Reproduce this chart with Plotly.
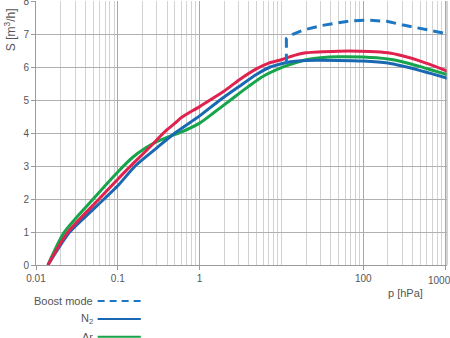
import plotly.graph_objects as go

# ---- data ----
p_n2 = [0.014, 0.0255, 0.04, 0.068, 0.1, 0.163, 0.3, 0.5, 1, 1.78, 3, 5, 7.3, 10, 13, 20, 50, 100, 200, 300, 500, 700, 1100]
s_n2 = [0.0, 0.98, 1.46, 2.0, 2.4, 3.0, 3.55, 4.0, 4.52, 5.0, 5.4, 5.78, 6.0, 6.1, 6.16, 6.2, 6.2, 6.18, 6.12, 6.03, 5.89, 5.79, 5.65]

p_ar = [0.014, 0.022, 0.05, 0.1, 0.15, 0.22, 0.3, 0.4, 0.585, 1, 1.5, 2.39, 4, 6, 10, 13, 20, 30, 50, 100, 200, 300, 500, 700, 1100]
s_ar = [0.0, 0.98, 2.0, 2.82, 3.25, 3.55, 3.74, 3.87, 4.02, 4.3, 4.62, 5.0, 5.42, 5.72, 5.98, 6.08, 6.22, 6.28, 6.31, 6.3, 6.24, 6.16, 6.01, 5.9, 5.76]

p_red = [0.014, 0.0243, 0.059, 0.1, 0.137, 0.2, 0.265, 0.33, 0.4, 0.5, 0.6, 1, 2, 3, 5, 7, 10, 13, 20, 50, 120, 200, 300, 500, 700, 1100]
s_red = [0.0, 0.98, 2.0, 2.6, 2.95, 3.35, 3.65, 3.9, 4.1, 4.3, 4.47, 4.8, 5.27, 5.6, 5.95, 6.12, 6.22, 6.32, 6.43, 6.48, 6.47, 6.43, 6.34, 6.18, 6.05, 5.86]

p_boost = [11.5, 11.5, 14, 18.7, 30, 48, 70, 111, 200, 309, 500, 700, 1100]
s_boost = [6.1, 6.86, 7.0, 7.12, 7.25, 7.34, 7.4, 7.42, 7.38, 7.27, 7.17, 7.1, 7.0]

x_tickvals = [0.01, 0.1, 1, 100, 1000]
x_ticktext = ["0.01", "0.1", "1", "100", ""]
x_last_label = "1000"
y_tickvals = [0, 1, 2, 3, 4, 5, 6, 7, 8]

legend_names = ["Boost mode", "N<sub>2</sub>", "Ar"]

# ---- styles ----
C_RED = "#e0234e"
C_BLUE = "#1b68b2"
C_GREEN = "#16a54a"
C_BOOST = "#1d77c2"
TXT = "#555555"
FONT = "Liberation Sans, Arial, sans-serif"

fig = go.Figure()
sm = dict(shape="spline", smoothing=0.7)
fig.add_trace(go.Scatter(x=p_ar, y=s_ar, mode="lines", line=dict(color=C_GREEN, width=3, **sm), showlegend=False))
fig.add_trace(go.Scatter(x=p_n2, y=s_n2, mode="lines", line=dict(color=C_BLUE, width=3, **sm), showlegend=False))
fig.add_trace(go.Scatter(x=p_red, y=s_red, mode="lines", line=dict(color=C_RED, width=3, **sm), showlegend=False))
fig.add_trace(go.Scatter(x=p_boost, y=s_boost, mode="lines", line=dict(color=C_BOOST, width=3, dash="10px,6px"), showlegend=False))

fig.update_layout(
    width=450, height=338,
    margin=dict(l=36, r=3, t=1, b=73),
    paper_bgcolor="white", plot_bgcolor="white",
    font=dict(family=FONT, size=10, color=TXT),
    xaxis=dict(
        type="log", range=[-2, 3.024],
        tickvals=x_tickvals, ticktext=x_ticktext,
        showgrid=True, gridcolor="#a8a8a8", gridwidth=1,
        minor=dict(dtick="D1", showgrid=True, gridcolor="#d2d2d2", gridwidth=1),
        showline=True, linecolor="#9a9a9a", linewidth=1, mirror=False,
        ticks="outside", ticklen=4, tickcolor="#9a9a9a",
        tickfont=dict(size=10, color=TXT), zeroline=False,
        ticklabeloverflow="allow", automargin=False,
    ),
    yaxis=dict(
        range=[0, 8], tickvals=y_tickvals,
        showgrid=True, gridcolor="#b0b0b0", gridwidth=1,
        showline=True, linecolor="#9a9a9a", linewidth=1,
        ticks="outside", ticklen=4, tickcolor="#9a9a9a",
        tickfont=dict(size=10, color=TXT), zeroline=False,
        ticklabeloverflow="allow", automargin=False,
    ),
)

# right border
fig.add_shape(type="line", xref="paper", yref="paper", x0=1, x1=1, y0=0, y1=1,
              line=dict(color="#a8a8a8", width=1))

# last x tick label, pulled inside the figure
fig.add_annotation(text=x_last_label, xref="x", yref="paper", x=3, y=-0.058,
                   xanchor="center", xshift=-6, yanchor="middle", showarrow=False,
                   font=dict(size=10, color=TXT))

# axis titles
fig.add_annotation(text="S [m<sup>3</sup>/h]", xref="paper", yref="paper",
                   x=-0.063, y=0.89, textangle=-90, showarrow=False,
                   xanchor="center", yanchor="middle", font=dict(size=12, color=TXT))
fig.add_annotation(text="p [hPa]", xref="paper", yref="paper",
                   x=0.9, y=-0.105, showarrow=False,
                   xanchor="center", yanchor="middle", font=dict(size=11, color=TXT))

# legend (drawn manually, text left of sample)
leg_y = [-0.136, -0.205, -0.272]
leg_colors = [C_BOOST, C_BLUE, C_GREEN]
leg_dash = ["7px,5px", "solid", "solid"]
for name, yy, col, dsh in zip(legend_names, leg_y, leg_colors, leg_dash):
    fig.add_annotation(text=name, xref="paper", yref="paper", x=0.143, y=yy,
                       xanchor="right", yanchor="middle", showarrow=False,
                       font=dict(size=11, color=TXT))
    fig.add_shape(type="line", xref="paper", yref="paper", x0=0.15, x1=0.255,
                  y0=yy, y1=yy, line=dict(color=col, width=2, dash=dsh))

fig.write_html("out.html")
